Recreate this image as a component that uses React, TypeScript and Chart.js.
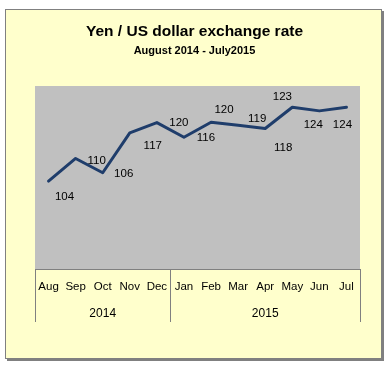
import React, { useEffect, useRef } from "react";
import { Chart, registerables } from "chart.js";

Chart.register(...registerables);

// ---- data ----
const months = ["Aug", "Sep", "Oct", "Nov", "Dec", "Jan", "Feb", "Mar", "Apr", "May", "Jun", "Jul"];
const yearRow = ["", "", "2014", "", "", "", "", "", "2015", "", "", ""];
const yearStartIndices = [0, 5];
const yenPerDollar = [104.0, 110.2, 106.3, 117.2, 120.0, 116.0, 120.1, 119.3, 118.4, 124.2, 123.2, 124.2];
const titleText = "Yen / US dollar exchange rate";
const subtitleText = "August 2014 - July2015";

// ---- style ----
const FONT = "'Liberation Sans', Arial, Helvetica, sans-serif";
const LINE_COLOR = "#1F3D6B";
const PLOT_BG = "#C0C0C0";
const AXIS_GRAY = "#808080";
// label offsets from each point (dx, dy) in px
const labelOffsets: [number, number][] = [
  [16, 16], [21, 2], [21, 1], [23, 13], [22, 0], [22, 1],
  [13, -12], [19, -6], [18, 19], [21, 18], [-37, -14], [-4, 18],
];

const boundaryColor = (ctx: any) =>
  ctx.type === "scale" || yearStartIndices.includes(ctx.index) ? AXIS_GRAY : "rgba(0,0,0,0)";

const plotBackground = {
  id: "plotBackground",
  beforeDraw(chart: any) {
    const { ctx, chartArea } = chart;
    ctx.save();
    ctx.fillStyle = PLOT_BG;
    ctx.fillRect(chartArea.left, chartArea.top, chartArea.right - chartArea.left, chartArea.bottom - chartArea.top);
    ctx.restore();
  },
};

const dataLabels = {
  id: "dataLabels",
  afterDatasetsDraw(chart: any) {
    const { ctx } = chart;
    const meta = chart.getDatasetMeta(0);
    ctx.save();
    ctx.font = `11.5px ${FONT}`;
    ctx.fillStyle = "#000";
    ctx.textAlign = "center";
    ctx.textBaseline = "middle";
    meta.data.forEach((pt: any, i: number) => {
      const [dx, dy] = labelOffsets[i];
      ctx.fillText(String(Math.round(yenPerDollar[i])), pt.x + dx, pt.y + dy);
    });
    ctx.restore();
  },
};

export default function App() {
  const canvasRef = useRef<HTMLCanvasElement | null>(null);

  useEffect(() => {
    if (!canvasRef.current) return;
    const chart = new Chart(canvasRef.current, {
      type: "line",
      data: {
        labels: months,
        datasets: [
          {
            data: yenPerDollar,
            borderColor: LINE_COLOR,
            borderWidth: 3,
            pointRadius: 0,
            pointHoverRadius: 0,
            tension: 0,
            fill: false,
            borderCapStyle: "round",
            borderJoinStyle: "round",
          },
        ],
      },
      options: {
        responsive: false,
        animation: false,
        devicePixelRatio: 1,
        events: [],
        layout: { padding: { left: 0, right: 0, top: 0, bottom: 49 } },
        plugins: {
          legend: { display: false },
          tooltip: { enabled: false },
          title: {
            display: true,
            text: titleText,
            color: "#000",
            font: { family: FONT, size: 15.5, weight: "bold" },
            padding: { top: 22, bottom: 0 },
          },
          subtitle: {
            display: true,
            text: subtitleText,
            color: "#000",
            font: { family: FONT, size: 11, weight: "bold" },
            padding: { top: 4, bottom: 28.2 },
          },
        },
        scales: {
          x: {
            type: "category",
            position: "bottom",
            weight: 0,
            offset: true,
            grid: {
              display: true,
              offset: true,
              drawOnChartArea: false,
              drawTicks: true,
              tickLength: 31,
              color: boundaryColor,
              lineWidth: 1,
            },
            border: { display: true, color: AXIS_GRAY, width: 1 },
            ticks: {
              autoSkip: false,
              maxRotation: 0,
              minRotation: 0,
              padding: -19.9,
              color: "#000",
              font: { family: FONT, size: 11.5 },
            },
            afterFit: (scale: any) => {
              scale.height = 31;
            },
          },
          x2: {
            type: "category",
            axis: "x",
            position: "bottom",
            weight: 1,
            labels: yearRow,
            offset: true,
            grid: {
              display: true,
              offset: true,
              drawOnChartArea: false,
              drawTicks: true,
              tickLength: 22,
              color: boundaryColor,
              lineWidth: 1,
            },
            border: { display: false },
            ticks: {
              autoSkip: false,
              maxRotation: 0,
              minRotation: 0,
              padding: -15.2,
              color: "#000",
              font: { family: FONT, size: 12 },
            },
            afterFit: (scale: any) => {
              scale.height = 22;
            },
          },
          y: {
            type: "linear",
            position: "left",
            min: 80,
            max: 130,
            display: true,
            grid: { display: false },
            border: { display: false },
            ticks: { display: false },
            afterFit: (scale: any) => {
              scale.width = 35;
            },
          },
          yRight: {
            type: "linear",
            axis: "y",
            position: "right",
            display: true,
            grid: { display: false },
            border: { display: false },
            ticks: { display: false },
            afterFit: (scale: any) => {
              scale.width = 29;
            },
          },
        },
      },
      plugins: [plotBackground, dataLabels],
    } as any);
    return () => chart.destroy();
  }, []);

  return (
    <div style={{ position: "fixed", left: 0, top: 0, width: 389, height: 371, background: "#fff", overflow: "hidden" }}>
      <div
        style={{
          position: "absolute",
          left: 5,
          top: 9,
          width: 377,
          height: 350,
          boxSizing: "border-box",
          background: "#FFFFCC",
          border: `1px solid ${AXIS_GRAY}`,
          boxShadow: `2px 2px 0 ${AXIS_GRAY}`,
        }}
      />
      <canvas
        ref={canvasRef}
        width={389}
        height={371}
        style={{ position: "absolute", left: 0, top: 0, width: 389, height: 371, display: "block" }}
      />
    </div>
  );
}
